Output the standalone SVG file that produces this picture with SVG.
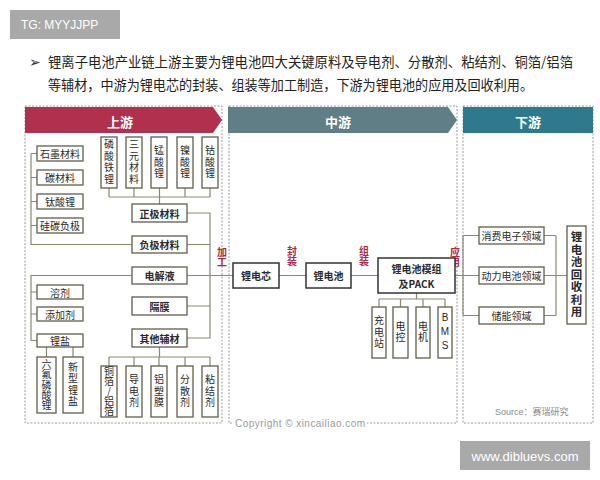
<svg xmlns="http://www.w3.org/2000/svg" width="600" height="480" viewBox="0 0 600 480">
<style>
.t{font-family:"Noto Sans CJK SC","Liberation Sans",sans-serif;fill:#2a2a2a;font-size:10px;text-anchor:middle;dominant-baseline:central}
.v{font-family:"Noto Sans CJK SC","Liberation Sans",sans-serif;fill:#2a2a2a;font-size:10px;text-anchor:middle;writing-mode:vertical-rl;text-orientation:upright;letter-spacing:1.5px}
.b{font-weight:bold}
.box{fill:#fff;stroke:#5e5e4c;stroke-width:1.3}
.dbox{fill:#fff;stroke:#333;stroke-width:1.5}
.sec{fill:none;stroke:#9a9a9a;stroke-width:1;stroke-dasharray:2 1.5}
.ln{fill:none;stroke:#8a8a72;stroke-width:1.2}
.red{font-family:"Noto Sans CJK SC",sans-serif;fill:#b02a3e;font-size:10px;font-weight:bold;text-anchor:middle;writing-mode:vertical-rl;text-orientation:upright;letter-spacing:0px}
.ban{font-family:"Noto Sans CJK SC",sans-serif;fill:#fff;font-size:13px;font-weight:bold;text-anchor:middle;dominant-baseline:central}
</style>
<rect width="600" height="480" fill="#fff"/>
<g id="header">
<rect x="10" y="10" width="110" height="29" fill="#a9a9a9"/>
<text x="21" y="29" font-family="Liberation Sans,sans-serif" font-size="12" fill="#fff">TG: MYYJJPP</text>
<text x="29" y="62" font-family="DejaVu Sans,sans-serif" font-size="14" fill="#333" dominant-baseline="central">➢</text>
<text x="48" y="61" font-family="Noto Sans CJK SC,sans-serif" font-size="13.3" fill="#222" dominant-baseline="central" textLength="525" lengthAdjust="spacingAndGlyphs">锂离子电池产业链上游主要为锂电池四大关键原料及导电剂、分散剂、粘结剂、铜箔/铝箔</text>
<text x="48" y="84" font-family="Noto Sans CJK SC,sans-serif" font-size="13.3" fill="#222" dominant-baseline="central" textLength="485" lengthAdjust="spacingAndGlyphs">等辅材，中游为锂电芯的封装、组装等加工制造，下游为锂电池的应用及回收利用。</text>
</g>
<g id="sections">
<rect class="sec" x="25" y="106" width="197" height="317"/>
<rect class="sec" x="229" y="106" width="228" height="317"/>
<rect class="sec" x="463" y="106" width="130" height="317"/>
<polygon points="25,107 213,107 222,120 213,133 25,133" fill="#b0304d"/>
<polygon points="228,107 448,107 457,120 448,133 228,133" fill="#5f7e85"/>
<rect x="463" y="107" width="130" height="26" fill="#2e7a8c"/>
<text class="ban" x="120" y="121">上游</text>
<text class="ban" x="338" y="121">中游</text>
<text class="ban" x="528" y="121">下游</text>
</g>
<g id="connectors">
<path class="ln" d="M31,153.5V244.5H132M31,153.5H37M31,177.5H37M31,201.5H37M31,225.5H37"/>
<path class="ln" d="M109,188V197M134,188V197M159.5,188V204M185,188V197M210,188V197M109,197H210"/>
<path class="ln" d="M187,213H210V338H187M187,244.5H210M187,306H210M187,275.5H233"/>
<path class="ln" d="M132,275.5H31V340.5H37M31,292H37M31,314H37M46.5,347V357M73,347V357"/>
<path class="ln" d="M159.5,347V357M109,357H210M109,357V366M134,357V366M159,357V366M185,357V366M210,357V366"/>
<path class="ln" d="M279,275.5H306M351,275.5H378M455,275.5H479M463,235.5V315.5M463,235.5H479M463,315.5H479"/>
<path class="ln" d="M416.5,293V299M379,299H445M379,299V307M400.5,299V307M423,299V307M445,299V307"/>
<path class="ln" d="M544,235.5H556M544,275.5H567M544,315.5H556M556,235.5V315.5"/>
</g>
<g id="labels">
<text class="red" x="222" y="257">加工</text>
<text class="red" x="292" y="256.5">封装</text>
<text class="red" x="364" y="256.5">组装</text>
<text class="red" x="455" y="257">应用</text>
</g>
<g id="n-shimo"><rect class="box" x="37" y="146" width="46" height="15"/><text class="t" x="60" y="153.5">石墨材料</text></g>
<g id="n-tan"><rect class="box" x="37" y="170" width="46" height="15"/><text class="t" x="60" y="177.5">碳材料</text></g>
<g id="n-taisuanli"><rect class="box" x="37" y="194" width="46" height="15"/><text class="t" x="60" y="201.5">钛酸锂</text></g>
<g id="n-guitan"><rect class="box" x="37" y="218" width="46" height="15"/><text class="t" x="60" y="225.5">硅碳负极</text></g>
<g id="n-lfp"><rect class="box" x="101" y="137" width="16" height="51"/><text class="v" x="109" y="162.5">磷酸铁锂</text></g>
<g id="n-sanyuan"><rect class="box" x="126" y="137" width="16" height="51"/><text class="v" x="134" y="162.5">三元材料</text></g>
<g id="n-mengsuanli"><rect class="box" x="151" y="137" width="16" height="51"/><text class="v" x="159" y="162.5">锰酸锂</text></g>
<g id="n-niesuanli"><rect class="box" x="177" y="137" width="16" height="51"/><text class="v" x="185" y="162.5">镍酸锂</text></g>
<g id="n-gusuanli"><rect class="box" x="202" y="137" width="16" height="51"/><text class="v" x="210" y="162.5">钴酸锂</text></g>
<g id="n-zhengji"><rect class="box" x="132" y="204" width="55" height="18"/><text class="t b" x="159.5" y="213">正极材料</text></g>
<g id="n-fuji"><rect class="box" x="132" y="236" width="55" height="17"/><text class="t b" x="159.5" y="244.5">负极材料</text></g>
<g id="n-dianjieye"><rect class="box" x="132" y="267" width="55" height="17"/><text class="t b" x="159.5" y="275.5">电解液</text></g>
<g id="n-gemo"><rect class="box" x="132" y="297" width="55" height="18"/><text class="t b" x="159.5" y="306">隔膜</text></g>
<g id="n-qita"><rect class="box" x="132" y="329" width="55" height="18"/><text class="t b" x="159.5" y="338">其他辅材</text></g>
<g id="n-rongji"><rect class="box" x="37" y="285" width="46" height="14"/><text class="t" x="60" y="292">溶剂</text></g>
<g id="n-tianjia"><rect class="box" x="37" y="307" width="46" height="14"/><text class="t" x="60" y="314">添加剂</text></g>
<g id="n-liyan"><rect class="box" x="37" y="334" width="46" height="13"/><text class="t" x="60" y="340.5">锂盐</text></g>
<g id="n-liufu"><rect class="box" x="37" y="357" width="19" height="56"/><text class="v" x="46.5" y="385" style="letter-spacing:0.3px">六氟磷酸锂</text></g>
<g id="n-xinxing"><rect class="box" x="63" y="357" width="20" height="56"/><text class="v" x="73" y="385">新型锂盐</text></g>
<g id="n-tongbo"><rect class="box" x="101" y="366" width="16" height="51"/><text class="v" x="109" y="391.5" style="letter-spacing:0px">铜箔/铝箔</text></g>
<g id="n-daodian"><rect class="box" x="126" y="366" width="16" height="51"/><text class="v" x="134" y="391.5">导电剂</text></g>
<g id="n-lvsu"><rect class="box" x="151" y="366" width="16" height="51"/><text class="v" x="159" y="391.5">铝塑膜</text></g>
<g id="n-fensan"><rect class="box" x="177" y="366" width="16" height="51"/><text class="v" x="185" y="391.5">分散剂</text></g>
<g id="n-nianjie"><rect class="box" x="202" y="366" width="16" height="51"/><text class="v" x="210" y="391.5">粘结剂</text></g>
<g id="n-lidianxin"><rect class="dbox" x="233" y="263" width="46" height="25"/><text class="t b" x="256" y="275.5" font-size="12">锂电芯</text></g>
<g id="n-lidianchi"><rect class="dbox" x="306" y="263" width="45" height="25"/><text class="t b" x="328.5" y="275.5" font-size="12">锂电池</text></g>
<g id="n-pack"><rect class="dbox" x="378" y="258" width="77" height="35"/><text class="t b" x="416.5" y="268.5" font-size="12">锂电池模组</text><text class="t b" x="416.5" y="283" font-size="12">及PACK</text></g>
<g id="n-chongdian"><rect class="box" x="372" y="307" width="14" height="51" stroke="#444"/><text class="v" x="379" y="332.5">充电站</text></g>
<g id="n-diankong"><rect class="box" x="393" y="307" width="15" height="51" stroke="#444"/><text class="v" x="400.5" y="332.5">电控</text></g>
<g id="n-dianji"><rect class="box" x="416" y="307" width="14" height="51" stroke="#444"/><text class="v" x="423" y="332.5">电机</text></g>
<g id="n-bms"><rect class="box" x="438" y="307" width="14" height="51" stroke="#444"/><text class="v" x="445" y="332.5" style="font-family:'Liberation Sans',sans-serif;letter-spacing:3px">BMS</text></g>
<g id="n-xiaofei"><rect class="box" x="479" y="227" width="65" height="17"/><text class="t" x="511.5" y="235.5">消费电子领域</text></g>
<g id="n-dongli"><rect class="box" x="479" y="267" width="65" height="17"/><text class="t" x="511.5" y="275.5">动力电池领域</text></g>
<g id="n-chuneng"><rect class="box" x="479" y="307" width="65" height="17"/><text class="t" x="511.5" y="315.5">储能领域</text></g>
<g id="n-huishou"><rect class="box" x="567" y="226" width="19" height="98"/><text class="v b" x="576.5" y="275" style="font-size:11.5px;letter-spacing:1px">锂电池回收利用</text></g>
<g id="footer">
<rect x="233" y="417" width="134" height="12" fill="#fff"/>
<text x="235" y="423" font-family="Liberation Sans,sans-serif" font-size="10" fill="#9a9a9a" dominant-baseline="central" textLength="130">Copyright © xincailiao.com</text>
<text x="495" y="412" font-family="Liberation Sans,Noto Sans CJK SC,sans-serif" font-size="9" fill="#8a8a8a" dominant-baseline="central">Source：赛瑞研究</text>
<rect x="460" y="441" width="130" height="29" fill="#a9a9a9"/>
<text x="525" y="456" font-family="Liberation Sans,sans-serif" font-size="13" fill="#fff" text-anchor="middle" dominant-baseline="central">www.dibluevs.com</text>
</g>
</svg>
